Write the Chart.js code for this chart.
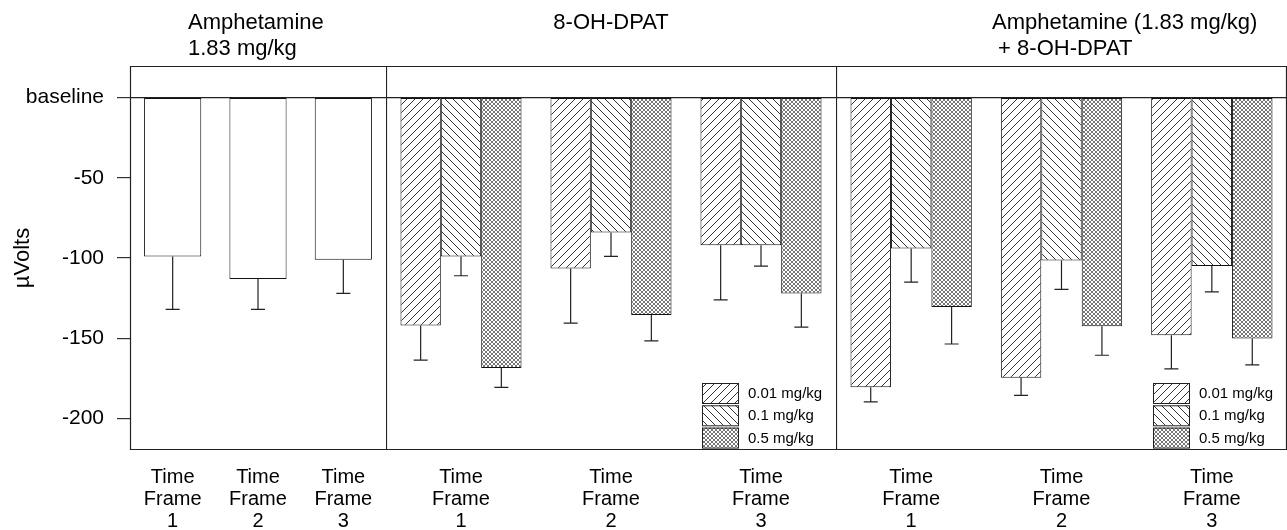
<!DOCTYPE html>
<html>
<head>
<meta charset="utf-8">
<script src="https://cdn.jsdelivr.net/npm/chart.js@4.4.1/dist/chart.umd.min.js"></script>
<style>
  body { margin: 0; background: #fff; }
  canvas { position: absolute; top: 0; }
</style>
</head>
<body>
<canvas id="amph" width="386" height="530" style="left:0px"></canvas>
<canvas id="dpat" width="450" height="530" style="left:386px"></canvas>
<canvas id="combo" width="451" height="530" style="left:836px"></canvas>
<script>
// values (µVolts below baseline), errors are the lower whisker length
const timeFrames = [["Time", "Frame", "1"], ["Time", "Frame", "2"], ["Time", "Frame", "3"]];
const doseLabels = ["0.01 mg/kg", "0.1 mg/kg", "0.5 mg/kg"];
const yTicks = [0, -50, -100, -150, -200];

const amphMeans = [-99, -113, -101];
const amphErr = [33, 19, 21];

const dpatMeans = [[-142, -106.5, -92], [-99, -84, -92], [-168.5, -135.5, -122]];
const dpatErr = [[21.5, 34, 34], [12, 15, 13], [12, 16, 21]];

const comboMeans = [[-180.5, -174.5, -148], [-94, -101.5, -105], [-130.5, -142.5, -150]];
const comboErr = [[9, 11, 21], [21, 18, 16], [23, 18, 16.5]];

const amphTitle = ["Amphetamine", "1.83 mg/kg"];
const dpatTitle = ["8-OH-DPAT"];
const comboTitle = ["Amphetamine (1.83 mg/kg)", " + 8-OH-DPAT"];

const FONT = "Helvetica, Arial, 'Liberation Sans', sans-serif";

function hatch(kind) {
    const s = kind === "x" ? 4 : 8;
    const c = document.createElement("canvas");
    c.width = c.height = s;
    const g = c.getContext("2d");
    g.fillStyle = "#fff";
    g.fillRect(0, 0, s, s);
    g.strokeStyle = kind === "x" ? "#666" : "#333";
    g.lineWidth = kind === "x" ? 0.9 : 1;
    g.beginPath();
    if (kind === "/" || kind === "x") {
        g.moveTo(-1, s + 1); g.lineTo(s + 1, -1);
        g.moveTo(-2, 2); g.lineTo(2, -2);
        g.moveTo(s - 2, s + 2); g.lineTo(s + 2, s - 2);
    }
    if (kind === "\\" || kind === "x") {
        g.moveTo(-1, -1); g.lineTo(s + 1, s + 1);
        g.moveTo(s - 2, -2); g.lineTo(s + 2, 2);
        g.moveTo(-2, s - 2); g.lineTo(2, s + 2);
    }
    g.stroke();
    return g.createPattern(c, "repeat");
}
const fills = [hatch("/"), hatch("\\"), hatch("x")];

// frame round the panel, plus title above it
const framePlugin = {
    id: "panelFrame",
    afterDraw(chart, args, opts) {
        const { ctx, chartArea: a } = chart;
        ctx.save();
        ctx.strokeStyle = "#222";
        ctx.lineWidth = 1.2;
        ctx.beginPath();
        ctx.moveTo(a.left + 0.5, a.top + 0.5);
        ctx.lineTo(a.left + 0.5, a.bottom - 0.5);
        ctx.lineTo(a.right, a.bottom - 0.5);
        ctx.moveTo(a.left, a.top + 0.5);
        ctx.lineTo(a.right, a.top + 0.5);
        if (opts.closeRight) {
            ctx.moveTo(a.right - 0.5, a.top);
            ctx.lineTo(a.right - 0.5, a.bottom);
        }
        ctx.stroke();

        ctx.fillStyle = "#000";
        ctx.font = "22px " + FONT;
        ctx.textBaseline = "alphabetic";
        const lines = opts.lines || [];
        lines.forEach((t, i) => {
            const y = 29 + i * 26;
            if (opts.align === "center") {
                ctx.textAlign = "center";
                ctx.fillText(t, (a.left + a.right) / 2, y);
            } else {
                ctx.textAlign = "left";
                ctx.fillText(t, a.left + opts.x, y);
            }
        });
        ctx.restore();
    }
};

// one-sided error whiskers below each bar
const errorPlugin = {
    id: "errorBars",
    afterDatasetsDraw(chart) {
        const { ctx } = chart;
        const yScale = chart.scales.y;
        ctx.save();
        ctx.strokeStyle = "#222";
        ctx.lineWidth = 1.2;
        chart.data.datasets.forEach((ds, di) => {
            const meta = chart.getDatasetMeta(di);
            meta.data.forEach((bar, i) => {
                const yEnd = yScale.getPixelForValue(ds.data[i] - ds.errors[i]);
                ctx.beginPath();
                ctx.moveTo(bar.x, bar.y);
                ctx.lineTo(bar.x, yEnd);
                ctx.moveTo(bar.x - 7, yEnd);
                ctx.lineTo(bar.x + 7, yEnd);
                ctx.stroke();
            });
        });
        ctx.restore();
    }
};

// dose legend in the bottom right corner of a panel
const doseLegend = {
    id: "doseLegend",
    afterDraw(chart, args, opts) {
        if (!opts.show) return;
        const { ctx, chartArea: a } = chart;
        ctx.save();
        ctx.font = "15px " + FONT;
        ctx.textAlign = "left";
        ctx.textBaseline = "middle";
        chart.data.datasets.forEach((ds, i) => {
            const x = a.right - 134;
            const y = a.bottom - 67 + i * 22.3;
            ctx.fillStyle = ds.backgroundColor;
            ctx.fillRect(x, y, 36, 20);
            ctx.strokeStyle = "#222";
            ctx.lineWidth = 1;
            ctx.strokeRect(x + 0.5, y + 0.5, 36, 20);
            ctx.fillStyle = "#000";
            ctx.fillText(ds.label, x + 46, y + 11);
        });
        ctx.restore();
    }
};

function panel(id, datasets, title, showY) {
    return new Chart(document.getElementById(id), {
        type: "bar",
        data: { labels: timeFrames, datasets },
        plugins: [framePlugin, errorPlugin, doseLegend],
        options: {
            responsive: false,
            animation: false,
            devicePixelRatio: 1,
            layout: { padding: { top: 66, left: 0, right: 0, bottom: 0 } },
            scales: {
                x: {
                    grid: { display: false },
                    border: { display: false },
                    ticks: {
                        color: "#000",
                        font: { family: FONT, size: 20, lineHeight: 1.1 },
                        padding: 8,
                        maxRotation: 0,
                        autoSkip: false
                    },
                    afterFit: s => { s.height = 80; }
                },
                y: {
                    min: -219.5,
                    max: 19.6,
                    afterBuildTicks: s => { s.ticks = yTicks.map(v => ({ value: v })); },
                    border: { display: false },
                    grid: {
                        color: c => c.tick && c.tick.value === 0 ? "#222" : "rgba(0,0,0,0)",
                        lineWidth: 1.2,
                        drawTicks: showY,
                        tickLength: 13,
                        tickColor: "#333",
                        tickWidth: 1.2
                    },
                    ticks: {
                        display: showY,
                        color: "#000",
                        padding: 13,
                        font: { family: FONT, size: 21 },
                        callback: v => v === 0 ? "baseline" : v
                    },
                    title: {
                        display: showY,
                        text: "µVolts",
                        color: "#000",
                        font: { family: FONT, size: 22 },
                        padding: { top: 10, bottom: 0 }
                    },
                    afterFit: s => { s.width = showY ? 130 : 0; }
                }
            },
            plugins: {
                legend: { display: false },
                tooltip: { enabled: false },
                panelFrame: title,
                doseLegend: { show: datasets.length > 1 }
            }
        }
    });
}

function doseSets(means, errs) {
    return doseLabels.map((lab, i) => ({
        label: lab,
        data: means[i],
        errors: errs[i],
        backgroundColor: fills[i],
        borderColor: "#111",
        borderWidth: 1,
        borderSkipped: false,
        categoryPercentage: 0.807,
        barPercentage: 1.0
    }));
}

panel("amph", [{
    label: "Amphetamine 1.83 mg/kg",
    data: amphMeans,
    errors: amphErr,
    backgroundColor: "#fff",
    borderColor: "#111",
    borderWidth: 1,
    borderSkipped: false,
    categoryPercentage: 1.0,
    barPercentage: 0.67
}], { lines: amphTitle, x: 58 }, true);

panel("dpat", doseSets(dpatMeans, dpatErr), { lines: dpatTitle, align: "center" }, false);

panel("combo", doseSets(comboMeans, comboErr), { lines: comboTitle, x: 156, closeRight: true }, false);
</script>
</body>
</html>
